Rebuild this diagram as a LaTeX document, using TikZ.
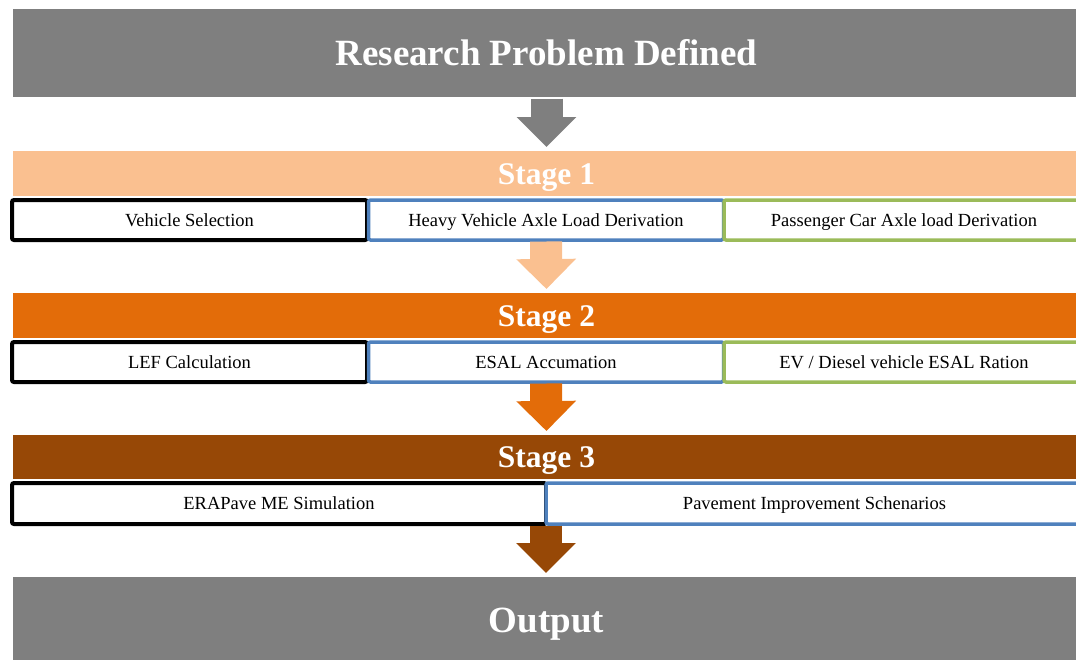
\documentclass[tikz,border=0pt]{standalone}
\usepackage{fontspec}
\setmainfont{Liberation Serif}
\usetikzlibrary{arrows.meta}
\definecolor{bargray}{HTML}{7F7F7F}
\definecolor{peach}{HTML}{FAC090}
\definecolor{orng}{HTML}{E36C09}
\definecolor{brwn}{HTML}{974806}
\definecolor{cellblue}{HTML}{4F81BD}
\definecolor{cellgreen}{HTML}{9BBB59}

\begin{document}
\begin{tikzpicture}[x=1pt,y=-1pt,
  bar/.style={fill=#1,text=white,minimum width=1067pt,inner sep=0pt,outer sep=0pt},
  bigtext/.style={font=\fontsize{37}{40}\selectfont\bfseries,text height=26pt,text depth=1.5pt},
  stagetext/.style={font=\fontsize{31.5}{34}\selectfont\bfseries,text height=22.5pt,text depth=1.5pt},
  cell/.style={draw=#1,fill=white,rounded corners=2pt,line width=3.5pt,inner sep=0pt,outer sep=0pt,
    minimum height=40pt,font=\fontsize{18.5}{20}\selectfont,text height=13.5pt,text depth=1pt},
  flow/.style={draw=#1,line width=32pt,shorten <=1.5pt,shorten >=4pt,
    -{Triangle[width=58pt,length=30pt]}}]
  \clip (0,0) rectangle (1076,659);
  % bars
  \node[bar=bargray,minimum height=88pt,bigtext] (top) at (546.5,53) {Research Problem Defined};
  \node[bar=peach,minimum height=45pt,stagetext] (s1) at (546.5,173.5) {Stage 1};
  \node[bar=orng,minimum height=45pt,stagetext] (s2) at (546.5,315.5) {Stage 2};
  \node[bar=brwn,minimum height=44pt,stagetext] (s3) at (546.5,457) {Stage 3};
  \node[bar=bargray,minimum height=86pt,bigtext] (out) at (546.5,620) {Output};
  % stage 1 row
  \node[cell=black,line width=4pt,minimum width=355pt] (r1a) at (189.5,220) {Vehicle Selection};
  \node[cell=cellblue,minimum width=355pt] (r1b) at (546,220) {Heavy Vehicle Axle Load Derivation};
  \node[cell=cellgreen,minimum width=360pt] (r1c) at (904,220) {Passenger Car Axle load Derivation};
  % stage 2 row
  \node[cell=black,line width=4pt,minimum width=355pt] (r2a) at (189.5,362) {LEF Calculation};
  \node[cell=cellblue,minimum width=355pt] (r2b) at (546,362) {ESAL Accumation};
  \node[cell=cellgreen,minimum width=360pt] (r2c) at (904,362) {EV / Diesel vehicle ESAL Ration};
  % stage 3 row
  \node[cell=black,line width=4pt,minimum width=534pt,minimum height=41pt] (r3a) at (279,503.5) {ERAPave ME Simulation};
  \node[cell=cellblue,minimum width=537pt,minimum height=41pt] (r3b) at (814.5,503.5) {Pavement Improvement Schenarios};
  % arrows
  \draw[flow=bargray] (top.south) -- (s1.north);
  \draw[flow=peach] (r1b.south) -- (s2.north);
  \draw[flow=orng] (r2b.south) -- (s3.north);
  \draw[flow=brwn] (r3b.south west) -- (out.north -| r3b.south west);
\end{tikzpicture}
\end{document}
